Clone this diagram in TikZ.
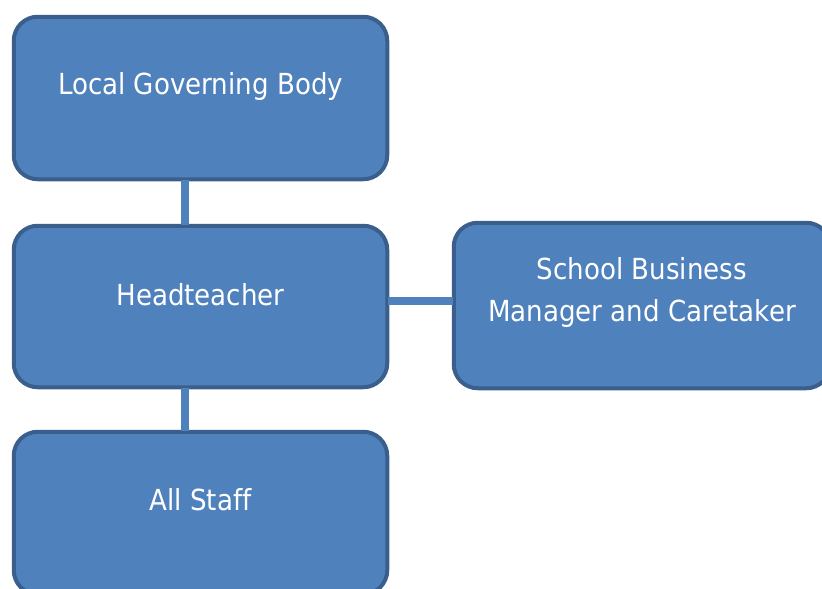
\documentclass[tikz,border=0pt]{standalone}
\usepackage{fontspec}
\setmainfont[FakeStretch=0.9, Ligatures=NoCommon]{DejaVu Sans}
\definecolor{boxfill}{HTML}{4F81BD}
\definecolor{boxline}{HTML}{3A5F8C}
\begin{document}
\begin{tikzpicture}[x=1pt,y=1pt,
  orgbox/.style={draw=boxline, line width=4pt, fill=boxfill, rounded corners=24pt,
    minimum width=373.5pt, minimum height=162.5pt, inner sep=0pt},
  boxtext/.style={text=white, font=\fontsize{29}{42}\selectfont, align=center, inner sep=0pt},
  link/.style={draw=boxfill, line width=8pt}]
\useasboundingbox (0,0) rectangle (822,-589);
\clip (0,0) rectangle (822,-589);
\node[orgbox] (lgb) at (200.5,-98) {};
\node[orgbox, minimum height=161.5pt] (ht) at (200.5,-306.5) {};
\node[orgbox] (staff) at (200.5,-513) {};
\node[orgbox, minimum width=376.5pt, minimum height=165.5pt] (sbm) at (642,-305.5) {};
\draw[link] ([xshift=-15.5pt,yshift=1.5pt]lgb.south) -- ([xshift=-15.5pt,yshift=-1.5pt]ht.north);
\draw[link] ([xshift=-15.5pt,yshift=1.5pt]ht.south) -- ([xshift=-15.5pt,yshift=-1.5pt]staff.north);
\draw[link] ([xshift=-1.5pt,yshift=5.5pt]ht.east) -- ([xshift=1.5pt,yshift=4.5pt]sbm.west);
\node[boxtext, anchor=base] (lgbtext) at ([yshift=4pt]lgb.center) {Local Governing Body};
\node[boxtext, anchor=base] (httext) at ([yshift=1.5pt]ht.center) {Headteacher};
\node[boxtext, anchor=base] (stafftext) at ([yshift=3pt]staff.center) {All Staff};
\node[boxtext, anchor=base] (sbmtext1) at ([yshift=26.5pt]sbm.center) {School Business};
\node[boxtext, anchor=base] (sbmtext2) at ([yshift=-15.5pt]sbm.center) {Manager and Caretaker};
\end{tikzpicture}
\end{document}
